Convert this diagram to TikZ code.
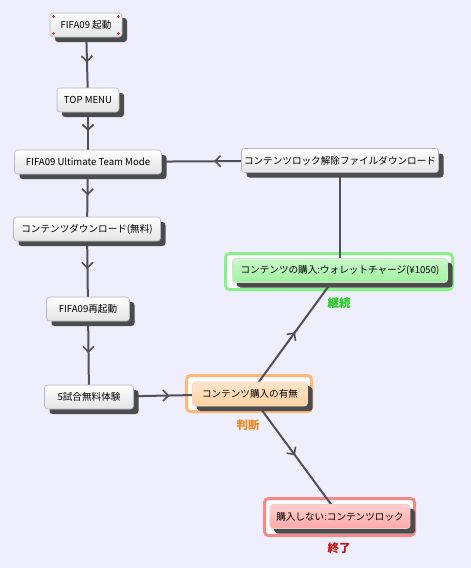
\documentclass[tikz,border=0pt]{standalone}
\usepackage{fontspec}
\setmainfont{Noto Sans CJK JP}
\usetikzlibrary{shadows,arrows.meta,decorations.markings}
\definecolor{bgc}{HTML}{EEEEFC}
\definecolor{boxborder}{HTML}{B4B4C4}
\definecolor{boxbot}{HTML}{E4E4E6}
\definecolor{shadowc}{HTML}{4C4C4C}
\definecolor{linec}{HTML}{505058}
\definecolor{oframe}{HTML}{FFB878}
\definecolor{ofill}{HTML}{FFD0A0}
\definecolor{gframe}{HTML}{88F088}
\definecolor{gfill}{HTML}{A0F2A0}
\definecolor{rframe}{HTML}{F28A8A}
\definecolor{rfill}{HTML}{FFA8A8}
\definecolor{glabel}{HTML}{22CC22}
\definecolor{olabel}{HTML}{E88A20}
\definecolor{rlabel}{HTML}{CC1010}
\definecolor{marker}{HTML}{D04848}
\pgfdeclarelayer{bglayer}
\pgfdeclarelayer{edgelayer}
\pgfsetlayers{bglayer,edgelayer,main}
\begin{document}
\begin{tikzpicture}[x=1pt,y=-1pt,
  box/.style={rectangle, rounded corners=3pt, draw=boxborder, line width=0.6pt,
    top color=white, bottom color=boxbot, minimum height=24pt, inner sep=0pt,
    font=\fontsize{9.6}{11}\selectfont,
    general shadow={fill=shadowc, shadow xshift=5pt, shadow yshift=-5pt}},
  cbox/.style={box, top color=#1!55, bottom color=#1, draw=#1!80!black!40,
    general shadow={fill=shadowc, shadow xshift=4pt, shadow yshift=-4pt}},
  frame/.style={rectangle, rounded corners=4pt, line width=3pt, draw=#1, fill=white!85!bgc, inner sep=0pt},
  lab/.style={font=\fontsize{11.5}{13}\selectfont\bfseries, text=#1, inner sep=0pt},
  link/.style={draw=linec, line width=2pt, postaction={decorate},
    decoration={markings, mark=at position 0.5 with {\arrow{Straight Barb[length=5.5pt,width=11pt,line width=1.6pt]}}}},
  plainlink/.style={draw=linec, line width=2pt},
  mk/.style={draw=marker, line width=0.6pt}
]
\begin{pgfonlayer}{bglayer}
  \fill[bgc] (0,0) rectangle (471,568);
  \node[frame=oframe, minimum width=125pt, minimum height=36pt] (f7) at (249,393.5) {};
  \node[frame=gframe, minimum width=227pt, minimum height=36pt] (f8) at (339,271.5) {};
  \node[frame=rframe, minimum width=150pt, minimum height=37pt] (f9) at (339.5,517) {};
\end{pgfonlayer}

\node[box, minimum width=72pt] (n1) at (86,25) {FIFA09 起動};
\node[box, minimum width=62pt] (n2) at (88,100) {TOP MENU};
\node[box, minimum width=147pt] (n3) at (88,162) {FIFA09 Ultimate Team Mode};
\node[box, minimum width=147pt] (n4) at (87,229) {コンテンツダウンロード(無料)};
\node[box, minimum width=83pt] (n5) at (88,309) {FIFA09再起動};
\node[box, minimum width=89pt] (n6) at (89,397) {5試合無料体験};
\node[cbox=ofill, minimum width=115pt] (n7) at (250,394) {コンテンツ購入の有無};
\node[cbox=gfill, minimum width=215pt] (n8) at (340,270.5) {コンテンツの購入:ウォレットチャージ(¥1050)};
\node[cbox=rfill, minimum width=140pt] (n9) at (340,516.5) {購入しない:コンテンツロック};
\node[box, minimum width=197pt] (n10) at (340,160.5) {コンテンツロック解除ファイルダウンロード};

\node[lab=glabel] (l8) at (339,303) {継続};
\node[lab=olabel] (l7) at (248,425) {判断};
\node[lab=rlabel] (l9) at (339,548) {終了};

% selection markers on the first node
\foreach \px/\py in {53/16, 118/16, 53/33, 118/33}{
  \draw[mk] (\px-1.5,\py) -- (\px+1.5,\py);
  \draw[mk] (\px,\py-1.5) -- (\px,\py+1.5);
}

\begin{pgfonlayer}{edgelayer}
  \draw[link] (n1.center) -- (n2.center);
  \draw[link] (n2.center) -- (n3.center);
  \draw[link] (n3.center) -- (n4.center);
  \draw[link] (n4.center) -- (n5.center);
  \draw[link] (n5.center) -- (n6.center);
  \draw[link] (n6.center) -- (n7.center);
  \draw[link] (n7.center) -- (n8.center);
  \draw[link] (n7.center) -- (n9.center);
  \draw[plainlink] (n8.center) -- (n10.center);
  \draw[link] (n10.center) -- (n3.center);
\end{pgfonlayer}
\end{tikzpicture}
\end{document}
